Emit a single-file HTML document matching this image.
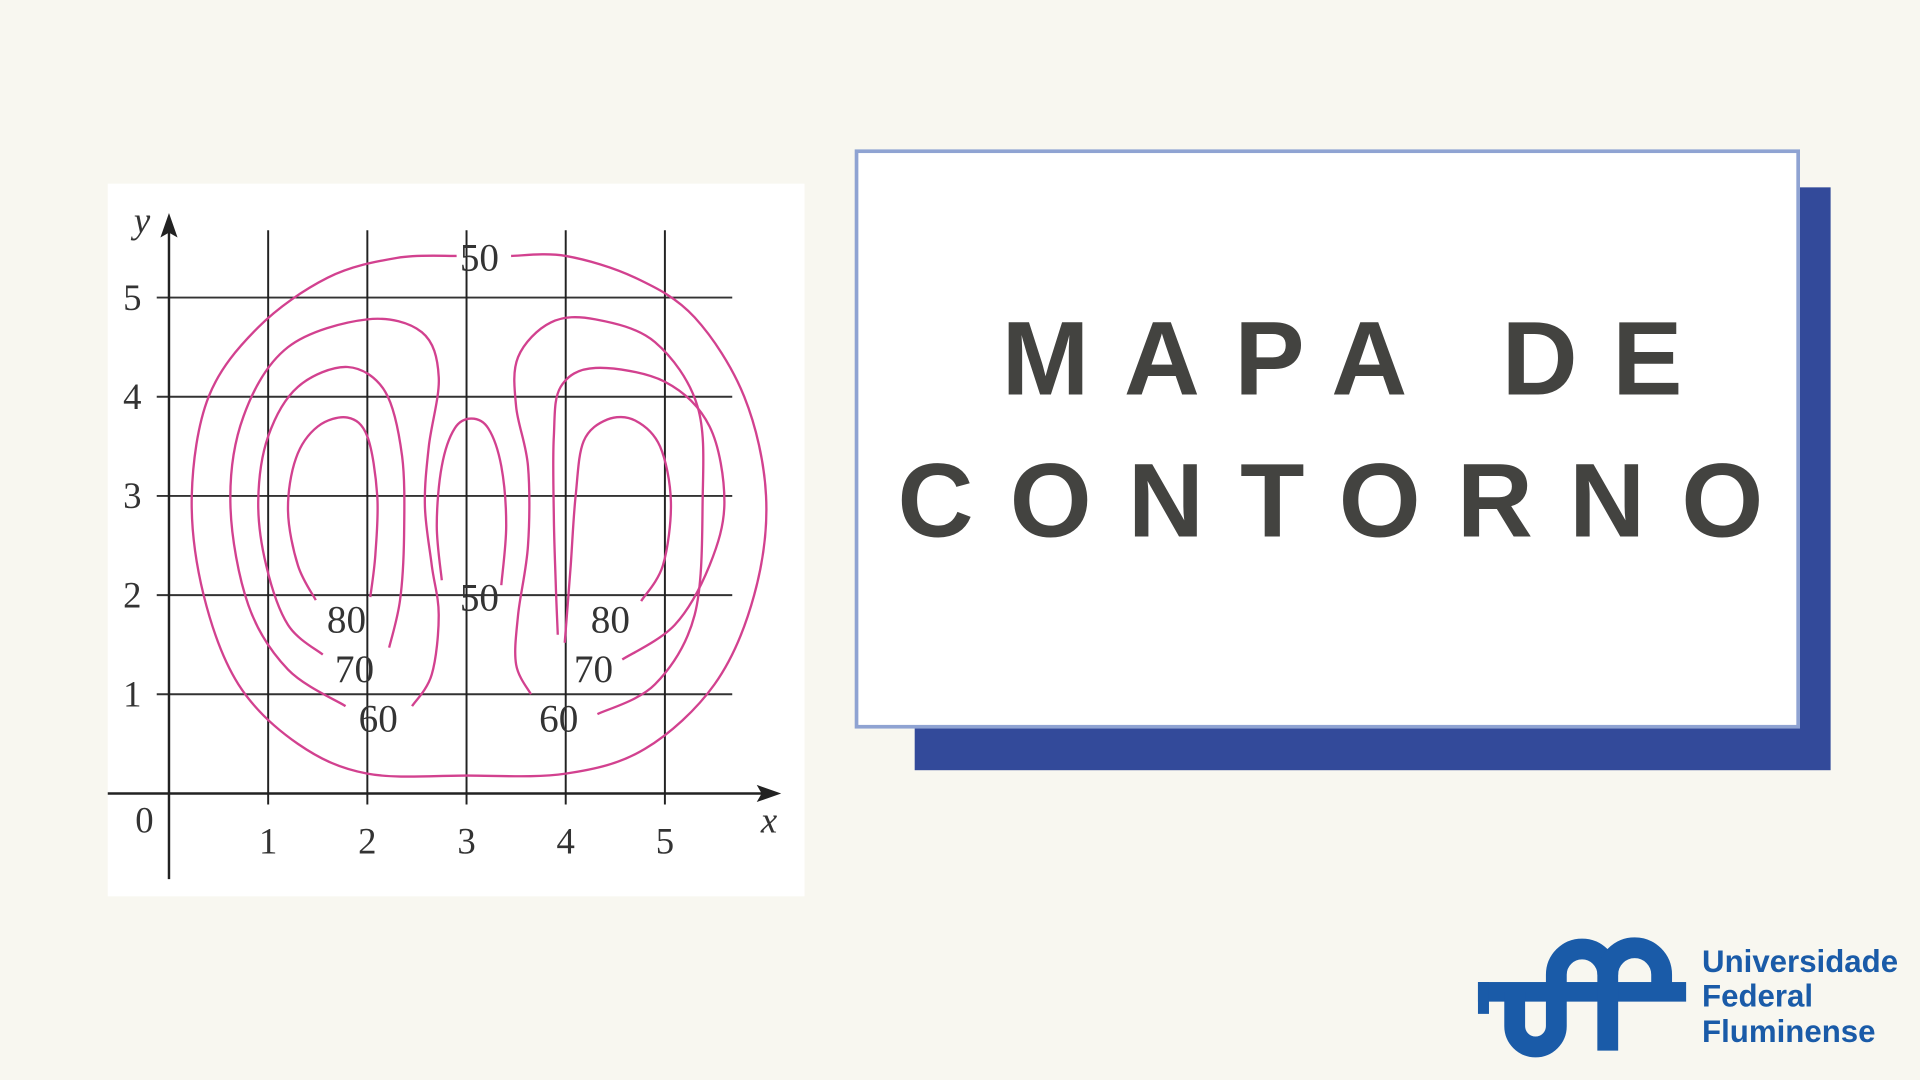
<!DOCTYPE html>
<html><head><meta charset="utf-8"><style>
html,body{margin:0;padding:0;background:#f8f7f0;}
svg{display:block;}
</style></head><body>
<svg id="root" width="1920" height="1080" viewBox="0 0 1568 882" xmlns="http://www.w3.org/2000/svg">
<rect x="0" y="0" width="1568" height="882" fill="#f8f7f0"/>
<g>
<rect x="88" y="150" width="569" height="582" fill="#ffffff"/>
<g id="grid"></g>
<g id="contours"></g>
<g id="labels"></g>
<g id="axes"></g>
</g>
<g>
<rect x="747" y="153" width="748" height="476" fill="#334a9a"/>
<rect x="699.5" y="123.5" width="769" height="470" fill="#ffffff" stroke="#8fa3d2" stroke-width="3"/>
<text x="818" y="322" textLength="556" lengthAdjust="spacing" font-family="Liberation Sans, sans-serif" font-weight="bold" font-size="86" fill="#434340">MAPA DE</text>
<text x="733" y="438" textLength="707" lengthAdjust="spacing" font-family="Liberation Sans, sans-serif" font-weight="bold" font-size="86" fill="#434340">CONTORNO</text>
</g>
<g fill="none" stroke="#1a5ba8">
<rect x="1207" y="802" width="170" height="16" fill="#1a5ba8" stroke="none"/>
<rect x="1207" y="802" width="9" height="26" fill="#1a5ba8" stroke="none"/>
<path d="M1237,810 V838 A17,17 0 0 0 1271,838 V796 A21,21 0 0 1 1313,796" stroke-width="17"/>
<path d="M1313,858 V796 A22,22 0 0 1 1357,796 V806" stroke-width="17"/>
<text x="1390" y="794" font-family="Liberation Sans, sans-serif" font-weight="bold" font-size="25.5" fill="#1a5ba8" stroke="none">Universidade</text>
<text x="1390" y="822" font-family="Liberation Sans, sans-serif" font-weight="bold" font-size="25.5" fill="#1a5ba8" stroke="none">Federal</text>
<text x="1390" y="851" font-family="Liberation Sans, sans-serif" font-weight="bold" font-size="25.5" fill="#1a5ba8" stroke="none">Fluminense</text>
</g>
</svg>
<script>
const xTicks = [1, 2, 3, 4, 5];
const yTicks = [1, 2, 3, 4, 5];
const contour50Outer = [[3.45,5.42],[4,5.42],[4.7,5.2],[5.3,4.8],[5.8,4.0],[6.02,3.0],[5.9,2.0],[5.5,1.1],[4.8,0.45],[4,0.2],[3,0.18],[2,0.2],[1.3,0.5],[0.7,1.1],[0.35,2.0],[0.23,3.0],[0.4,4.0],[0.9,4.7],[1.6,5.2],[2.3,5.4],[2.9,5.42]];
const contour50Inner = [[2.75,2.15],[2.7,2.7],[2.75,3.3],[2.88,3.68],[3.05,3.78],[3.22,3.68],[3.35,3.3],[3.4,2.7],[3.35,2.1]];
const contour80Left = [[1.48,1.95],[1.3,2.3],[1.2,2.85],[1.28,3.38],[1.5,3.7],[1.8,3.79],[2.0,3.6],[2.1,3.0],[2.08,2.4],[2.03,1.98]];
const contour70Left = [[1.55,1.4],[1.2,1.7],[0.98,2.3],[0.9,2.95],[1.0,3.6],[1.3,4.1],[1.8,4.3],[2.18,4.05],[2.35,3.4],[2.37,2.6],[2.33,1.95],[2.22,1.47]];
const contour60Left = [[1.78,0.88],[1.2,1.25],[0.8,1.9],[0.62,2.9],[0.75,3.8],[1.2,4.5],[2.0,4.78],[2.55,4.65],[2.72,4.2],[2.62,3.5],[2.58,2.9],[2.65,2.3],[2.72,1.8],[2.65,1.2],[2.45,0.88]];
const contour80Right = [[4.76,1.94],[4.98,2.3],[5.06,2.94],[4.95,3.5],[4.7,3.76],[4.42,3.77],[4.18,3.55],[4.1,3.0],[4.05,2.3],[3.99,1.52]];
const contour70Right = [[4.57,1.35],[5.1,1.7],[5.45,2.3],[5.6,2.94],[5.45,3.7],[5.0,4.15],[4.3,4.29],[3.95,4.1],[3.88,3.6],[3.88,2.8],[3.9,2.1],[3.92,1.6]];
const contour60Right = [[4.32,0.8],[4.9,1.1],[5.3,1.8],[5.38,2.94],[5.33,3.9],[4.9,4.55],[4.3,4.78],[3.85,4.75],[3.52,4.4],[3.5,3.9],[3.62,3.3],[3.62,2.5],[3.52,1.8],[3.5,1.3],[3.65,1.0]];
const contourLabels = ['50','50','80','70','60','80','70','60'];
const labelX = [3.13, 3.13, 1.79, 1.87, 2.11, 4.45, 4.28, 3.93];
const labelY = [5.41, 1.98, 1.76, 1.26, 0.76, 1.76, 1.26, 0.76];

const NS = 'http://www.w3.org/2000/svg';
const X0 = 138, Y0 = 648, U = 81;
function sx(v){ return X0 + U*v; }
function sy(v){ return Y0 - U*v; }
function mk(tag, attrs, parent){ const e=document.createElementNS(NS,tag); for(const k in attrs) e.setAttribute(k, attrs[k]); parent.appendChild(e); return e; }
function smooth(pts){
  const p = pts.map(d=>[sx(d[0]), sy(d[1])]);
  let d = 'M'+p[0][0].toFixed(1)+','+p[0][1].toFixed(1);
  for(let i=0;i<p.length-1;i++){
    const a=p[Math.max(i-1,0)], b=p[i], c=p[i+1], e=p[Math.min(i+2,p.length-1)];
    const c1=[b[0]+(c[0]-a[0])/6, b[1]+(c[1]-a[1])/6];
    const c2=[c[0]-(e[0]-b[0])/6, c[1]-(e[1]-b[1])/6];
    d += ' C'+c1.map(v=>v.toFixed(1)).join(',')+' '+c2.map(v=>v.toFixed(1)).join(',')+' '+c[0].toFixed(1)+','+c[1].toFixed(1);
  }
  return d;
}
const grid = document.getElementById('grid');
yTicks.forEach(t=>{
  const l = mk('line',{x1:128,x2:598,y1:sy(t),y2:sy(t),stroke:'#333',"stroke-width":1.6},grid);
  
  
  const tx = mk('text',{x:108,y:sy(t)+10,"font-family":"Liberation Serif, serif","font-size":30,fill:'#333',"text-anchor":"middle"},grid);
  tx.textContent = String(t);
  
  
});
xTicks.forEach(t=>{
  const l = mk('line',{x1:sx(t),x2:sx(t),y1:188,y2:657,stroke:'#222',"stroke-width":1.6},grid);
  
  
  const tx = mk('text',{x:sx(t),y:697,"font-family":"Liberation Serif, serif","font-size":30,fill:'#333',"text-anchor":"middle"},grid);
  tx.textContent = String(t);
  
  
});
const cg = document.getElementById('contours');
const series = [contour50Outer, contour50Inner, contour80Left, contour70Left, contour60Left, contour80Right, contour70Right, contour60Right];
const names = ['contour-50-outer','contour-50-inner','contour-80-left','contour-70-left','contour-60-left','contour-80-right','contour-70-right','contour-60-right'];
series.forEach((s,i)=>{
  const p = mk('path',{d:smooth(s),fill:'none',stroke:'#d2418f',"stroke-width":1.9},cg);
  
  
});
const lg = document.getElementById('labels');
contourLabels.forEach((t,i)=>{
  const tx = mk('text',{x:sx(labelX[i]),y:sy(labelY[i])+11,"font-family":"Liberation Serif, serif","font-size":32,fill:'#333',"text-anchor":"middle"},lg);
  tx.textContent = t;
  
  
});
const ax = document.getElementById('axes');
const xa = mk('line',{x1:88,x2:630,y1:Y0,y2:Y0,stroke:'#222',"stroke-width":2},ax);


const xh = mk('path',{d:'M638,648 L618,641 L622,648 L618,655 Z',fill:'#222'},ax);


const ya = mk('line',{x1:X0,x2:X0,y1:718,y2:182,stroke:'#222',"stroke-width":2},ax);


const yh = mk('path',{d:'M138,174 L131,194 L138,190 L145,194 Z',fill:'#222'},ax);


const o = mk('text',{x:118,y:680,"font-family":"Liberation Serif, serif","font-size":30,fill:'#333',"text-anchor":"middle"},ax);
o.textContent='0';


const xt = mk('text',{x:628,y:680,"font-family":"Liberation Serif, serif","font-style":"italic","font-size":30,fill:'#333',"text-anchor":"middle"},ax);
xt.textContent='x';


const yt = mk('text',{x:116,y:190,"font-family":"Liberation Serif, serif","font-style":"italic","font-size":30,fill:'#333',"text-anchor":"middle"},ax);
yt.textContent='y';


</script>
</body></html>
